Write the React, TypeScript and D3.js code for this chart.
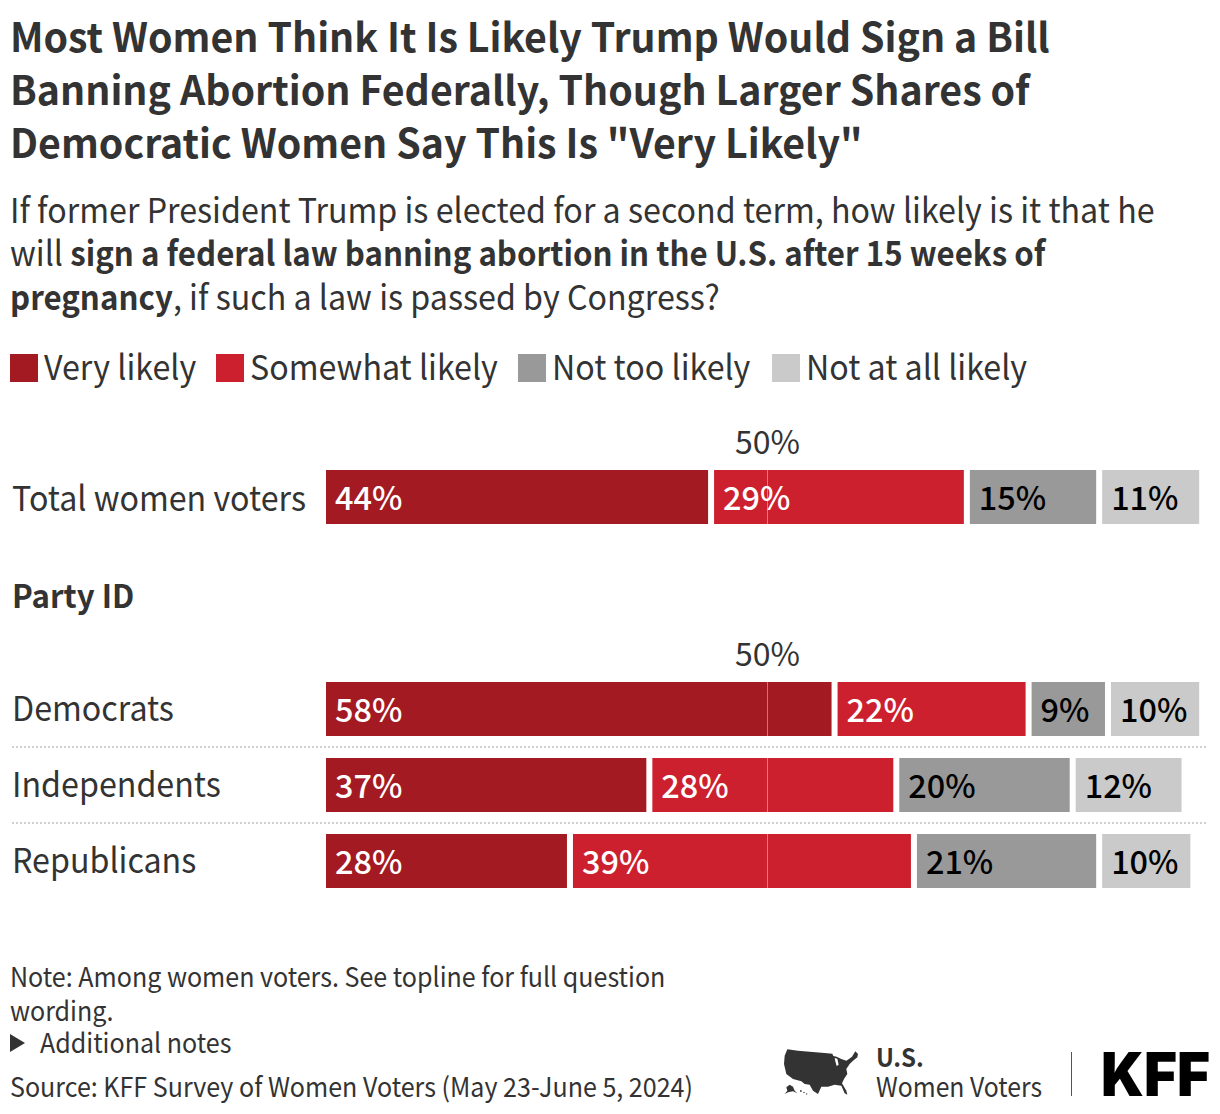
import { useEffect, useRef } from 'react';
import * as d3 from 'd3';

const fontFamily = '"Noto Sans CJK SC", "Noto Sans", sans-serif';

const titleLines = [
  'Most Women Think It Is Likely Trump Would Sign a Bill',
  'Banning Abortion Federally, Though Larger Shares of',
  'Democratic Women Say This Is "Very Likely"',
];

// each subtitle line is a list of [text, bold] runs
const subtitleLines: [string, boolean][][] = [
  [['If former President Trump is elected for a second term, how likely is it that he', false]],
  [['will ', false], ['sign a federal law banning abortion in the U.S. after 15 weeks of', true]],
  [['pregnancy', true], [', if such a law is passed by Congress?', false]],
];

const responses = ['Very likely', 'Somewhat likely', 'Not too likely', 'Not at all likely'];
const responseColors = ['#a31a22', '#cd202f', '#999999', '#cacaca'];
const labelColors = ['#ffffff', '#ffffff', '#000000', '#000000'];
const legendX = [10, 216, 518, 772];

const totalRows = ['Total women voters'];
const partyRows = ['Democrats', 'Independents', 'Republicans'];

const totalValues = [[44, 29, 15, 11]];
const partyValues = [
  [58, 22, 9, 10],
  [37, 28, 20, 12],
  [28, 39, 21, 10],
];

const noteLines = ['Note: Among women voters. See topline for full question', 'wording.'];

// logo outline, traced at 3x
const usMap =
  'M28 16 L60 20 L95 23 L140 27 L163 29 L166 36 L176 38 L190 45 L205 50 L214 44 L222 38 L232 22 L240 30 L238 40 L225 50 L215 60 L205 75 L208 90 L198 105 L192 118 L205 140 L208 152 L200 148 L190 125 L170 122 L150 128 L130 128 L120 150 L105 140 L95 122 L80 120 L70 112 L45 105 L25 90 L18 60 L20 35 Z';
const lakeMichigan = 'M170 42 L178 44 L182 62 L176 66 L172 52 Z';
const alaska = 'M25 130 L35 122 L45 128 L50 140 L58 148 L45 142 L30 145 L20 150 L28 140 Z';
const hawaii = 'M66 139 L71 139 L71 143 L66 143 Z M76 144 L80 144 L80 147 L76 147 Z M84 148 L88 149 L87 152 L84 151 Z';

const bodyScale = 0.948;
const boldScale = 0.92;
const footScale = 0.928;

const App = () => {
  const svgRef = useRef<SVGSVGElement>(null);

  useEffect(() => {
    if (!svgRef.current) return;
    document.body.style.margin = '0';

    const svg = d3.select(svgRef.current);
    svg.selectAll('*').remove();
    svg.style('font-family', fontFamily);

    // The reference face is narrower than the installed one, so squeeze text horizontally
    const squeezed = (px: number, py: number, sx: number, str: string, size: number, weight = 400, fill = '#333333') =>
      svg.append('text')
        .attr('transform', `translate(${px},${py}) scale(${sx},1)`)
        .attr('fill', fill)
        .style('font-size', `${size}px`)
        .style('font-weight', weight)
        .style('white-space', 'pre')
        .text(str);

    // Title
    titleLines.forEach((line, i) => {
      squeezed(10, [52, 104.5, 158][i], 0.983, line, 40, 700);
    });

    // Subtitle
    subtitleLines.forEach((runs, i) => {
      let cursor = 10;
      runs.forEach(([str, bold]) => {
        const sx = bold ? boldScale : bodyScale;
        const node = squeezed(cursor, 222.5 + i * 43.5, sx, str, 34, bold ? 700 : 400).node() as SVGTextElement;
        cursor += node.getComputedTextLength() * sx;
      });
    });

    // Legend
    responses.forEach((d, i) => {
      svg.append('rect')
        .attr('x', legendX[i])
        .attr('y', 354)
        .attr('width', 28)
        .attr('height', 28)
        .attr('fill', responseColors[i]);
      squeezed(legendX[i] + 34, 380, bodyScale, d, 34);
    });

    // Scales
    const x = d3.scaleLinear().domain([0, 100]).range([326, 1208]);
    const gap = 6;
    const totalY = d3.scaleBand().domain(totalRows).range([470, 524]);
    const partyY = d3.scaleBand().domain(partyRows).range([682, 888]).paddingInner(22 / 76);

    const drawGroup = (rows: string[], values: number[][], y: d3.ScaleBand<string>, labelOffset: number) => {
      rows.forEach((row, r) => {
        const top = y(row) as number;
        const g = svg.append('g');
        const stack = d3.cumsum(values[r]);
        const last = values[r].length - 1;

        squeezed(12, top + labelOffset, bodyScale, row, 34);

        g.selectAll('rect')
          .data(values[r])
          .join('rect')
          .attr('x', (d, i) => x(stack[i] - d))
          .attr('y', top)
          .attr('width', (d, i) => x(stack[i]) - x(stack[i] - d) - (i === last ? 0 : gap))
          .attr('height', y.bandwidth())
          .attr('fill', (d, i) => responseColors[i]);

        g.selectAll('text.value')
          .data(values[r])
          .join('text')
          .attr('class', 'value')
          .attr('x', (d, i) => x(stack[i] - d) + 9)
          .attr('y', top + 40)
          .attr('fill', (d, i) => labelColors[i])
          .style('font-size', '32.4px')
          .style('font-weight', 500)
          .text(d => `${d}%`);

        // 50% reference line
        g.append('line')
          .attr('x1', x(50) + 0.5)
          .attr('x2', x(50) + 0.5)
          .attr('y1', top)
          .attr('y2', top + y.bandwidth())
          .attr('stroke', '#ffffff')
          .attr('stroke-opacity', 0.4)
          .attr('stroke-width', 1);
      });

      svg.append('text')
        .attr('x', x(50) + 0.5)
        .attr('y', (y(rows[0]) as number) - 16)
        .attr('text-anchor', 'middle')
        .attr('fill', '#333333')
        .style('font-size', '32px')
        .text('50%');
    };

    drawGroup(totalRows, totalValues, totalY, 41);
    drawGroup(partyRows, partyValues, partyY, 39);

    // Group heading
    squeezed(12, 608, 0.975, 'Party ID', 32, 700);

    // Row separators
    svg.selectAll('line.sep')
      .data(partyRows.slice(1))
      .join('line')
      .attr('class', 'sep')
      .attr('x1', 12)
      .attr('x2', 1208)
      .attr('y1', d => (partyY(d) as number) - 11)
      .attr('y2', d => (partyY(d) as number) - 11)
      .attr('stroke', '#d0d0d0')
      .attr('stroke-width', 2)
      .attr('stroke-dasharray', '2 2');

    // Footer
    noteLines.forEach((line, i) => {
      squeezed(10, 987 + i * 34, footScale, line, 27);
    });
    svg.append('path').attr('d', 'M10 1034 L25 1043 L10 1052 Z').attr('fill', '#333333');
    squeezed(40, 1053, footScale, 'Additional notes', 27);
    squeezed(10, 1097, footScale, 'Source: KFF Survey of Women Voters (May 23-June 5, 2024)', 27);

    // Logos
    const logo = svg.append('g').attr('transform', 'translate(778,1044) scale(0.3333)');
    logo.append('path').attr('d', usMap).attr('fill', '#333333');
    logo.append('path').attr('d', lakeMichigan).attr('fill', '#ffffff');
    logo.append('path').attr('d', alaska).attr('fill', '#333333');
    logo.append('path').attr('d', hawaii).attr('fill', '#333333');
    squeezed(876, 1067, 0.96, 'U.S.', 25, 700);
    squeezed(876, 1097, 0.917, 'Women Voters', 27);
    svg.append('line')
      .attr('x1', 1071.5)
      .attr('x2', 1071.5)
      .attr('y1', 1052)
      .attr('y2', 1096)
      .attr('stroke', '#555555')
      .attr('stroke-width', 1);
    svg.append('text')
      .attr('x', 1101)
      .attr('y', 1096)
      .attr('textLength', 109)
      .attr('lengthAdjust', 'spacingAndGlyphs')
      .attr('fill', '#000000')
      .style('font-family', 'Inter, "Liberation Sans", sans-serif')
      .style('font-size', '61px')
      .style('font-weight', 900)
      .text('KFF');
  }, []);

  return <svg ref={svgRef} width={1220} height={1114} style={{ display: 'block' }} />;
};

export default App;
